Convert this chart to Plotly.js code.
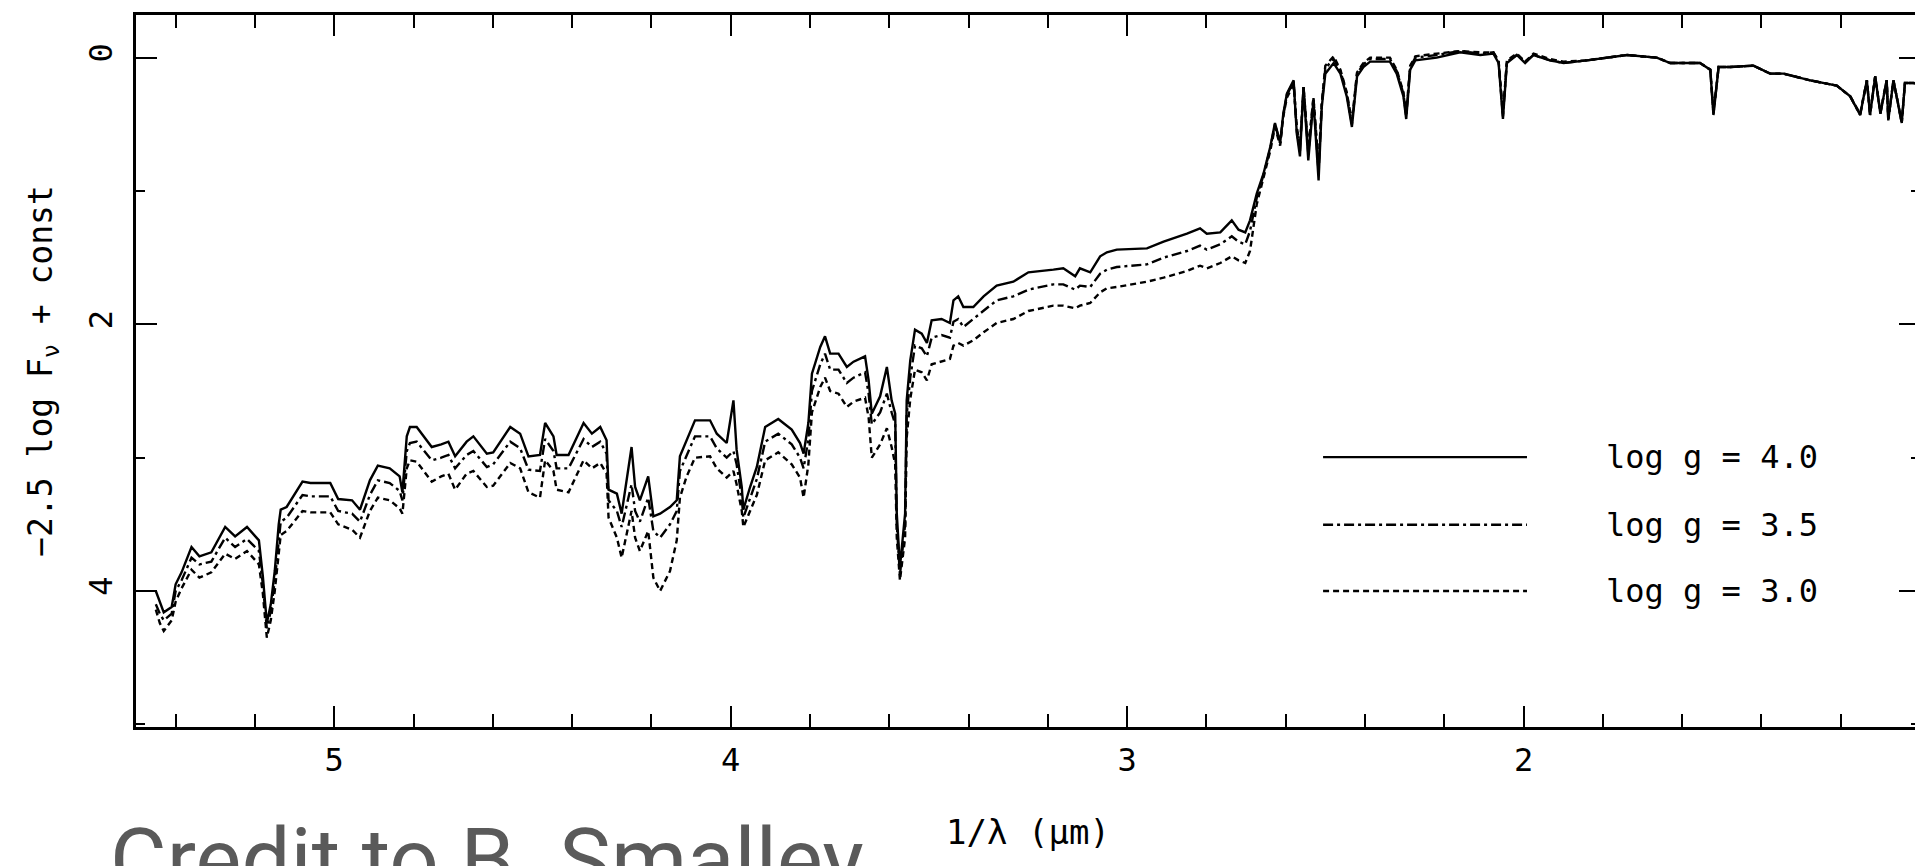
<!DOCTYPE html>
<html>
<head>
<meta charset="utf-8">
<script src="https://cdn.plot.ly/plotly-3.0.1.min.js"></script>
<style>
html, body { margin: 0; padding: 0; overflow: hidden; background: #fff; }
#chart { width: 1922px; height: 866px; }
</style>
</head>
<body>
<div id="chart"></div>
<script>
// 1/lambda (micron^-1)
const invLambda = [
 5.45,5.44,5.43,5.41,5.40,5.385,5.36,5.34,5.31,5.275,5.25,5.22,5.19,5.18,5.17,5.16,5.15,5.14,5.135,5.12,
 5.08,5.06,5.01,4.99,4.955,4.935,4.91,4.89,4.86,4.835,4.828,4.817,4.809,4.792,4.754,4.73,4.712,4.695,4.666,4.649,
 4.615,4.599,4.556,4.531,4.51,4.481,4.468,4.447,4.439,4.409,4.371,4.35,4.329,4.313,4.308,4.287,4.275,4.25,4.241,4.229,
 4.208,4.195,4.178,4.153,4.136,4.128,4.111,4.09,4.052,4.035,4.01,3.993,3.985,3.972,3.968,3.951,3.934,3.913,3.88,3.846,
 3.825,3.816,3.804,3.795,3.774,3.762,3.749,3.728,3.707,3.69,3.661,3.652,3.644,3.623,3.606,3.594,3.585,3.581,3.573,3.56,
 3.556,3.547,3.535,3.518,3.505,3.493,3.468,3.447,3.438,3.426,3.413,3.388,3.362,3.329,3.287,3.249,3.186,3.161,3.131,3.119,
 3.093,3.068,3.051,3.026,2.95,2.908,2.849,2.816,2.799,2.765,2.736,2.719,2.702,2.69,2.673,2.656,2.639,2.627,2.614,2.606,
 2.597,2.58,2.572,2.564,2.555,2.543,2.53,2.517,2.509,2.5,2.479,2.462,2.446,2.433,2.42,2.404,2.387,2.337,2.32,2.303,
 2.296,2.286,2.273,2.219,2.16,2.109,2.076,2.063,2.052,2.042,2.017,1.996,1.975,1.933,1.899,1.84,1.739,1.664,1.63,1.555,
 1.529,1.521,1.508,1.479,1.42,1.378,1.344,1.277,1.21,1.176,1.151,1.134,1.126,1.113,1.1,1.084,1.08,1.067,1.046,1.038,
 1.017,1.0
];
// -2.5 log F_nu + const, log g = 4.0
const magLogg40 = [
 4.00,4.08,4.16,4.12,3.95,3.86,3.67,3.74,3.71,3.52,3.59,3.52,3.62,3.89,4.24,4.10,3.85,3.50,3.39,3.37,
 3.18,3.19,3.19,3.31,3.32,3.39,3.17,3.06,3.08,3.14,3.26,2.84,2.77,2.77,2.92,2.90,2.88,2.99,2.88,2.84,
 2.97,2.96,2.77,2.82,2.99,2.98,2.74,2.84,2.98,2.98,2.74,2.82,2.77,2.87,3.24,3.27,3.42,2.92,3.22,3.32,
 3.14,3.44,3.42,3.37,3.32,2.99,2.87,2.72,2.72,2.82,2.89,2.57,2.94,3.22,3.39,3.22,3.07,2.77,2.71,2.79,
 2.89,2.97,2.74,2.37,2.17,2.09,2.22,2.22,2.32,2.28,2.24,2.42,2.67,2.54,2.32,2.57,2.67,3.42,3.82,3.42,
 2.57,2.27,2.04,2.07,2.14,1.97,1.96,1.99,1.82,1.79,1.87,1.87,1.79,1.71,1.68,1.61,1.59,1.58,1.64,1.58,
 1.61,1.49,1.46,1.44,1.43,1.38,1.32,1.28,1.32,1.31,1.22,1.29,1.31,1.22,1.02,0.87,0.67,0.49,0.64,0.42,
 0.27,0.17,0.57,0.74,0.22,0.77,0.32,0.92,0.37,0.12,0.04,0.12,0.29,0.52,0.14,0.07,0.03,0.03,0.12,0.29,
 0.46,0.09,0.02,0.00,-0.04,-0.02,-0.03,0.04,0.46,0.04,-0.02,0.04,-0.02,0.02,0.04,0.02,-0.02,0.00,0.04,0.04,
 0.09,0.43,0.07,0.07,0.06,0.12,0.12,0.17,0.21,0.29,0.43,0.17,0.43,0.14,0.42,0.17,0.47,0.17,0.49,0.19,
 0.19,0.20
];
// log g = 3.5
const magLogg35 = [
 4.10,4.17,4.22,4.17,4.00,3.92,3.75,3.80,3.78,3.60,3.67,3.61,3.70,3.95,4.28,4.15,3.92,3.60,3.48,3.45,
 3.28,3.29,3.29,3.40,3.42,3.48,3.28,3.17,3.19,3.25,3.32,2.95,2.89,2.88,3.02,3.00,2.98,3.08,2.98,2.95,
 3.07,3.05,2.88,2.93,3.09,3.10,2.86,2.95,3.08,3.08,2.86,2.92,2.88,2.97,3.32,3.40,3.52,3.20,3.40,3.48,
 3.30,3.55,3.60,3.50,3.40,3.10,2.98,2.84,2.84,2.93,3.00,2.95,3.05,3.30,3.45,3.30,3.16,2.88,2.82,2.90,
 3.00,3.08,2.86,2.50,2.30,2.22,2.34,2.34,2.44,2.40,2.36,2.52,2.75,2.66,2.52,2.66,2.75,3.50,3.88,3.50,
 2.68,2.40,2.16,2.18,2.24,2.10,2.08,2.10,1.98,1.96,2.02,1.96,1.90,1.82,1.79,1.74,1.70,1.70,1.74,1.71,
 1.72,1.62,1.59,1.57,1.55,1.50,1.45,1.41,1.44,1.40,1.34,1.38,1.40,1.30,1.05,0.88,0.68,0.50,0.64,0.43,
 0.28,0.18,0.55,0.70,0.22,0.72,0.30,0.86,0.35,0.08,0.01,0.10,0.27,0.50,0.12,0.05,0.01,0.01,0.10,0.27,
 0.44,0.07,0.00,-0.02,-0.05,-0.03,-0.04,0.03,0.44,0.03,-0.02,0.03,-0.02,0.02,0.04,0.02,-0.02,0.00,0.04,0.04,
 0.09,0.42,0.07,0.07,0.06,0.12,0.12,0.17,0.21,0.29,0.43,0.17,0.43,0.14,0.42,0.17,0.47,0.17,0.49,0.19,
 0.19,0.20
];
// log g = 3.0
const magLogg30 = [
 4.14,4.24,4.30,4.22,4.08,3.98,3.84,3.90,3.86,3.72,3.76,3.70,3.80,4.02,4.35,4.22,4.00,3.70,3.58,3.55,
 3.40,3.41,3.41,3.50,3.54,3.60,3.40,3.30,3.32,3.38,3.42,3.08,3.02,3.03,3.18,3.14,3.12,3.24,3.12,3.10,
 3.22,3.21,3.04,3.08,3.26,3.30,3.02,3.10,3.24,3.26,3.02,3.08,3.04,3.12,3.45,3.60,3.75,3.40,3.60,3.70,
 3.55,3.90,4.00,3.85,3.62,3.30,3.14,3.00,2.99,3.08,3.15,3.10,3.20,3.40,3.52,3.40,3.28,3.02,2.96,3.05,
 3.15,3.30,3.05,2.66,2.47,2.40,2.50,2.52,2.62,2.58,2.55,2.70,3.00,2.90,2.78,2.92,3.05,3.60,3.92,3.60,
 2.85,2.56,2.34,2.36,2.42,2.30,2.28,2.26,2.16,2.14,2.16,2.12,2.06,1.99,1.96,1.90,1.86,1.86,1.88,1.86,
 1.84,1.76,1.73,1.72,1.68,1.65,1.60,1.56,1.58,1.54,1.49,1.52,1.54,1.45,1.10,0.90,0.70,0.52,0.66,0.44,
 0.30,0.20,0.52,0.66,0.22,0.68,0.30,0.80,0.34,0.06,-0.01,0.09,0.26,0.48,0.11,0.04,0.00,0.00,0.09,0.26,
 0.42,0.06,-0.01,-0.03,-0.05,-0.04,-0.04,0.02,0.42,0.02,-0.03,0.03,-0.03,0.01,0.03,0.02,-0.02,0.00,0.04,0.04,
 0.09,0.41,0.07,0.07,0.06,0.12,0.12,0.17,0.21,0.29,0.42,0.17,0.42,0.14,0.41,0.17,0.46,0.17,0.48,0.19,
 0.19,0.20
];
const seriesNames = ["log g = 4.0", "log g = 3.5", "log g = 3.0"];
const seriesDash = ["solid", "10px,4px,3px,4px", "6px,4px"];
const xTitle = "1/λ (μm)";
const yTitle = "−2.5 log F<sub>ν</sub> + const";
const creditText = "Credit to B. Smalley";

const seriesY = [magLogg40, magLogg35, magLogg30];
const traces = seriesY.map((ys, i) => ({
  type: "scatter", mode: "lines", x: invLambda, y: ys, name: seriesNames[i],
  line: { color: "#000", width: 2.4, dash: seriesDash[i], shape: "linear" },
  hoverinfo: "x+y+name", showlegend: false
}));

const mono = "DejaVu Sans Mono, monospace";
// legend drawn as layout shapes + annotations (paper coordinates)
const legRowY = [0.379, 0.284, 0.191];
const shapes = legRowY.map((y, i) => ({
  type: "line", xref: "paper", yref: "paper", x0: 0.6654, x1: 0.7797, y0: y, y1: y,
  line: { color: "#000", width: 2.4, dash: seriesDash[i] }
}));
const annotations = legRowY.map((y, i) => ({
  xref: "paper", yref: "paper", x: 0.8229, y: y, xanchor: "left", yanchor: "middle",
  text: seriesNames[i], showarrow: false, font: { family: mono, size: 32, color: "#000" }
}));
annotations.push({
  xref: "paper", yref: "paper", x: -0.0155, y: -0.112, xanchor: "left", yanchor: "top",
  text: creditText, showarrow: false,
  font: { family: "Roboto, sans-serif", size: 87, color: "#5a5a5a" }
});

const layout = {
  width: 1922, height: 866,
  margin: { l: 136, r: 2, t: 15, b: 139, pad: 0 },
  paper_bgcolor: "#fff", plot_bgcolor: "#fff",
  showlegend: false,
  xaxis: {
    range: [5.5, 1.0], autorange: false,
    tick0: 0, dtick: 1, ticks: "inside", ticklen: 21, tickwidth: 2, tickcolor: "#000",
    minor: { dtick: 0.2, tick0: 0, ticks: "inside", ticklen: 13, tickwidth: 2, tickcolor: "#000", showgrid: false },
    showline: true, linecolor: "#000", linewidth: 3, mirror: "ticks",
    showgrid: false, zeroline: false,
    tickfont: { family: mono, size: 32, color: "#000" },
    ticklabelstandoff: 3,
    title: { text: xTitle, font: { family: mono, size: 34, color: "#000" }, standoff: 42 }
  },
  yaxis: {
    range: [5.02, -0.32], autorange: false,
    tick0: 0, dtick: 2, ticks: "inside", ticklen: 21, tickwidth: 2, tickcolor: "#000",
    minor: { dtick: 1, tick0: 0, ticks: "inside", ticklen: 9, tickwidth: 2, tickcolor: "#000", showgrid: false },
    showline: true, linecolor: "#000", linewidth: 3, mirror: "ticks",
    showgrid: false, zeroline: false,
    tickangle: -90,
    tickfont: { family: mono, size: 32, color: "#000" },
    ticklabelstandoff: 8,
    title: { text: yTitle, font: { family: mono, size: 33, color: "#000" }, standoff: 20 }
  },
  shapes: shapes,
  annotations: annotations
};

Plotly.newPlot("chart", traces, layout, { staticPlot: true, displayModeBar: false });
</script>
</body>
</html>
